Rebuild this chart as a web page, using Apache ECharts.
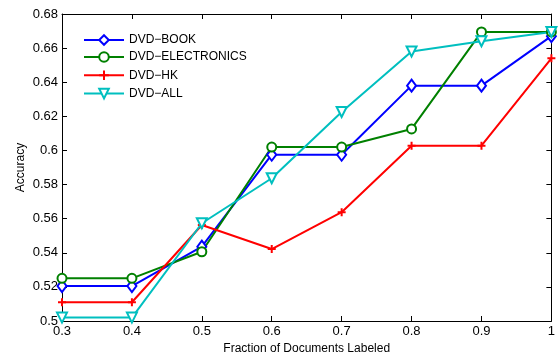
<!DOCTYPE html>
<html>
<head>
<meta charset="utf-8">
<script src="https://cdn.jsdelivr.net/npm/echarts@6/dist/echarts.min.js"></script>
<style>html,body{margin:0;padding:0;background:#fff}#c{width:558px;height:362px}</style>
</head>
<body>
<div id="c"></div>
<script>
const fractions = [0.3, 0.4, 0.5, 0.6, 0.7, 0.8, 0.9, 1.0];
const dvdBook = [0.5205, 0.5205, 0.5436, 0.5975, 0.5975, 0.638, 0.638, 0.667];
const dvdElectronics = [0.525, 0.525, 0.5406, 0.602, 0.602, 0.6126, 0.6695, 0.6695];
const dvdHK = [0.511, 0.511, 0.5563, 0.5422, 0.5638, 0.6028, 0.6028, 0.654];
const dvdAll = [0.502, 0.502, 0.5573, 0.5837, 0.6225, 0.658, 0.664, 0.6695];
const seriesNames = ['DVD\u2212BOOK', 'DVD\u2212ELECTRONICS', 'DVD\u2212HK', 'DVD\u2212ALL'];
const xName = 'Fraction of Documents Labeled';
const yName = 'Accuracy';

const FONT = 'Liberation Sans, Arial, sans-serif';
function pairs(vals) { return fractions.map((x, i) => [x, vals[i]]); }
const plusPath = 'path://M0,5L10,5M5,0L5,10';

function mk(name, vals, color, symbol, extra) {
  return Object.assign({
    name: name, type: 'line', data: pairs(vals),
    symbol: symbol, symbolSize: 10,
    lineStyle: { color: color, width: 2 },
    itemStyle: { color: '#fff', borderColor: color, borderWidth: 2 },
    emphasis: { disabled: true }, animation: false
  }, extra || {});
}

const chart = echarts.init(document.getElementById('c'), null, { renderer: 'canvas' });
const axisCommon = {
  axisLine: { lineStyle: { color: '#000', width: 1 } },
  axisTick: { inside: true, length: 5, lineStyle: { color: '#000' } },
  splitLine: { show: false }
};
chart.setOption({
  animation: false,
  backgroundColor: '#fff',
  grid: { left: 62, right: 3, top: 14, bottom: 41 },
  legend: {
    orient: 'vertical', left: 83, top: 34, padding: 0,
    itemWidth: 40, itemHeight: 12, itemGap: 5,
    textStyle: { fontFamily: FONT, fontSize: 12, color: '#000', lineHeight: 12 },
    data: seriesNames
  },
  xAxis: [
    Object.assign({}, axisCommon, {
      type: 'value', min: 0.3, max: 1, interval: 0.1, position: 'bottom',
      name: xName, nameLocation: 'middle', nameGap: 21,
      nameTextStyle: { fontFamily: FONT, fontSize: 12, color: '#000' },
      axisLabel: { fontFamily: FONT, fontSize: 13, color: '#000', margin: 4,
        formatter: v => String(Math.round(v * 10) / 10) }
    }),
    Object.assign({}, axisCommon, {
      type: 'value', min: 0.3, max: 1, interval: 0.1, position: 'top',
      axisLabel: { show: false }
    })
  ],
  yAxis: [
    Object.assign({}, axisCommon, {
      type: 'value', min: 0.5, max: 0.68, interval: 0.02, position: 'left',
      name: yName, nameLocation: 'middle', nameGap: 35, nameMoveOverlap: false,
      nameTextStyle: { fontFamily: FONT, fontSize: 12, color: '#000' },
      axisLabel: { fontFamily: FONT, fontSize: 13, color: '#000', margin: 4,
        formatter: v => String(Math.round(v * 100) / 100) }
    }),
    Object.assign({}, axisCommon, {
      type: 'value', min: 0.5, max: 0.68, interval: 0.02, position: 'right',
      axisLabel: { show: false }
    })
  ],
  series: [
    mk(seriesNames[0], dvdBook, '#0000ff', 'diamond', { symbolSize: [9, 12] }),
    mk(seriesNames[1], dvdElectronics, '#008000', 'circle', { symbolSize: 9 }),
    mk(seriesNames[2], dvdHK, '#ff0000', plusPath, { symbolSize: 8, itemStyle: { color: 'none', borderColor: '#ff0000', borderWidth: 2 } }),
    mk(seriesNames[3], dvdAll, '#00bfbf', 'triangle', { symbolRotate: 180, symbolSize: 10 })
  ]
});
</script>
</body>
</html>
